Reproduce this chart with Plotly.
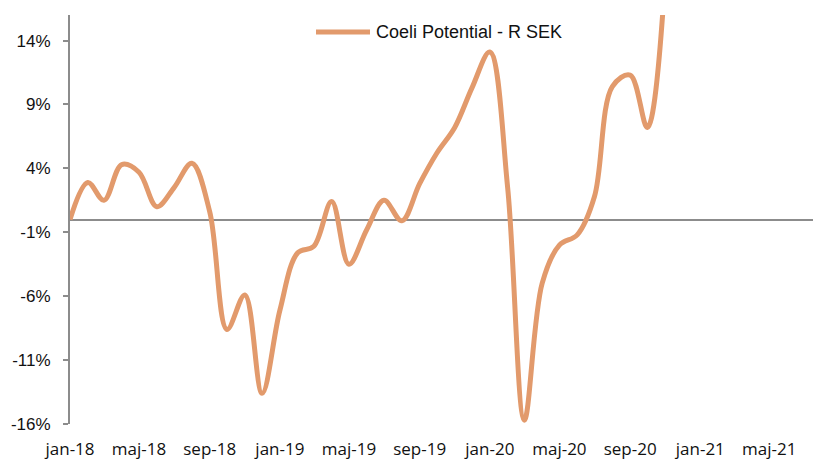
import plotly.graph_objects as go

# ---- data ----
months = [
    "2018-01-01", "2018-02-01", "2018-03-01", "2018-04-01", "2018-05-01", "2018-06-01",
    "2018-07-01", "2018-08-01", "2018-09-01", "2018-10-01", "2018-11-01", "2018-12-01",
    "2019-01-01", "2019-02-01", "2019-03-01", "2019-04-01", "2019-05-01", "2019-06-01",
    "2019-07-01", "2019-08-01", "2019-09-01", "2019-10-01", "2019-11-01", "2019-12-01",
    "2020-01-01", "2020-02-01", "2020-03-01", "2020-04-01", "2020-05-01", "2020-06-01",
    "2020-07-01", "2020-08-01", "2020-09-01", "2020-10-01", "2020-11-01",
]
values = [
    0.0, 2.9, 1.5, 4.3, 3.7, 1.0,
    2.5, 4.4, 0.6, -8.6, -5.9, -13.6,
    -7.1, -2.6, -2.1, 1.4, -3.5, -0.8,
    1.5, -0.1, 2.8, 5.2, 7.2, 10.3,
    13.1, 2.5, -15.7, -5.0, -2.0, -1.2,
    1.8, 10.4, 11.3, 7.2, 19.0,
]
series_name = "Coeli Potential - R SEK"

tick_dates = ["2018-01-01", "2018-05-01", "2018-09-01", "2019-01-01", "2019-05-01",
              "2019-09-01", "2020-01-01", "2020-05-01", "2020-09-01", "2021-01-01",
              "2021-05-01"]
tick_labels = ["jan-18", "maj-18", "sep-18", "jan-19", "maj-19", "sep-19",
               "jan-20", "maj-20", "sep-20", "jan-21", "maj-21"]
y_ticks = [-16, -11, -6, -1, 4, 9, 14]
y_labels = [f"{v}%" for v in y_ticks]

# ---- figure ----
W, H = 813, 461
ML, MR, MT, MB = 70, 0, 15, 37
LINE_COLOR = "#E29A6C"
AXIS_GRAY = "#8C8C8C"

fig = go.Figure()
fig.add_trace(go.Scatter(
    x=months, y=values, mode="lines", name=series_name,
    line=dict(color=LINE_COLOR, width=5, shape="spline", smoothing=1.0),
    showlegend=False, hoverinfo="x+y",
))

pw = W - ML - MR
ph = H - MT - MB

def px_x(p):
    return (p - ML) / pw

def px_y(p):
    return (H - MB - p) / ph

# manual legend (sample line + name)
fig.add_shape(type="line", xref="paper", yref="paper",
              x0=px_x(316), x1=px_x(370), y0=px_y(32), y1=px_y(32),
              line=dict(color=LINE_COLOR, width=5))
fig.add_annotation(xref="paper", yref="paper", x=px_x(374), y=px_y(32),
                   text=series_name, showarrow=False, xanchor="left", yanchor="middle",
                   font=dict(family="Liberation Sans, Arial", size=18, color="#111111"))

fig.update_layout(
    width=W, height=H,
    margin=dict(l=ML, r=MR, t=MT, b=MB, pad=0, autoexpand=False),
    paper_bgcolor="white", plot_bgcolor="white",
    showlegend=False,
    xaxis=dict(
        type="date",
        range=["2018-01-01", "2021-07-16"],
        tickmode="array", tickvals=tick_dates, ticktext=tick_labels,
        showgrid=False, zeroline=False, showline=False, ticks="",
        tickfont=dict(family="Open Sans", size=17, color="#111111"),
        ticklabelstandoff=13,
        automargin=False,
    ),
    yaxis=dict(
        range=[-16, 16],
        tickmode="array", tickvals=y_ticks, ticktext=y_labels,
        showgrid=False,
        zeroline=True, zerolinecolor=AXIS_GRAY, zerolinewidth=2,
        showline=True, linecolor=AXIS_GRAY, linewidth=2,
        ticks="outside", ticklen=5, tickcolor=AXIS_GRAY, tickwidth=2,
        tickfont=dict(family="Liberation Sans, Arial", size=17, color="#111111"),
        ticklabelstandoff=9,
        automargin=False,
    ),
)

fig.write_html("out.html", config={"displayModeBar": False},
               post_script="document.body.style.margin='0';document.body.style.padding='0';")
